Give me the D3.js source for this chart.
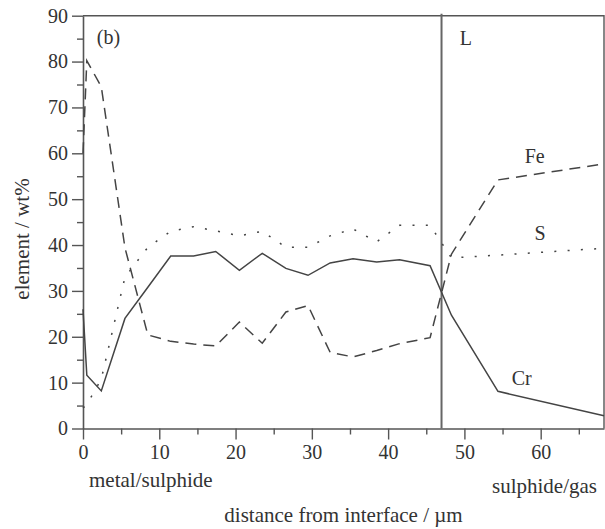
<!DOCTYPE html>
<html>
<head>
<meta charset="utf-8">
<script src="https://cdn.jsdelivr.net/npm/d3@7/dist/d3.min.js"></script>
<style>
  body { margin: 0; background: #fff; }
  text { font-family: "Liberation Serif", "Times New Roman", serif; fill: #333; }
</style>
</head>
<body>
<svg id="chart" width="605" height="529"></svg>
<script>
// distance from interface (um), shared by all three profiles
var distance = [0, 0.5, 2.4, 5.5, 8.5, 11.5, 14.5, 17.4, 20.5, 23.5, 26.6, 29.5, 32.4, 35.4, 38.5, 41.5, 45.5, 48.3, 54.4, 68.3];
var cr = [26, 11.6, 8.2, 24, 30.8, 37.6, 37.6, 38.6, 34.5, 38.2, 34.9, 33.4, 36.1, 37.0, 36.3, 36.8, 35.5, 24.7, 8.1, 2.8];
var fe = [60, 80.2, 74.5, 39.4, 20.4, 19.0, 18.4, 18.0, 23.2, 18.6, 25.4, 26.8, 16.6, 15.6, 17.0, 18.5, 19.8, 38.0, 54.2, 57.7];
var s  = [4.5, 5.2, 10.8, 33.0, 39.5, 43.0, 44.0, 43.1, 42.0, 43.0, 39.5, 39.5, 42.0, 43.5, 40.7, 44.3, 44.3, 37.2, 37.8, 39.3];
var seriesNames = ["Cr", "Fe", "S"];
var layerBoundary = 47;   // position of the "L" line
var yTicks = [0, 10, 20, 30, 40, 50, 60, 70, 80, 90];
var xTicks = [0, 10, 20, 30, 40, 50, 60];

var svg = d3.select("#chart"),
    plotLeft = 83, plotRight = 604, plotTop = 15.7, plotBottom = 428.5;

var x = d3.scaleLinear().domain([0, 68.3]).range([plotLeft, plotRight]);
var y = d3.scaleLinear().domain([0, 90]).range([plotBottom, plotTop]);

var axisColor = "#555", lineColor = "#444";

// minor ticks first, then the labelled major ones
svg.append("g")
    .attr("transform", "translate(" + plotLeft + ",0)")
    .call(d3.axisLeft(y).tickValues(d3.range(5, 90, 10)).tickSize(6).tickFormat(""))
    .call(function(g) { g.select(".domain").remove(); });
svg.append("g")
    .attr("transform", "translate(0," + plotBottom + ")")
    .call(d3.axisBottom(x).tickValues(d3.range(5, 68, 10)).tickSize(6).tickFormat(""))
    .call(function(g) { g.select(".domain").remove(); });

svg.append("g")
    .attr("transform", "translate(" + plotLeft + ",0)")
    .call(d3.axisLeft(y).tickValues(yTicks).tickSize(11).tickPadding(4).tickSizeOuter(0));
svg.append("g")
    .attr("transform", "translate(0," + plotBottom + ")")
    .call(d3.axisBottom(x).tickValues(xTicks).tickSize(11).tickPadding(5).tickSizeOuter(0));

svg.selectAll("g").attr("font-family", null).attr("font-size", null);
svg.selectAll(".tick line").attr("stroke", axisColor).attr("stroke-width", 1.4);
svg.selectAll(".domain").attr("stroke", axisColor).attr("stroke-width", 1.6);
svg.selectAll(".tick text")
    .style("font-family", "'Liberation Serif', serif")
    .style("font-size", "20px")
    .style("fill", "#333");

// frame: top and right edges
svg.append("path")
    .attr("d", "M" + plotLeft + "," + plotTop + "H" + plotRight + "V" + plotBottom)
    .attr("fill", "none")
    .attr("stroke", axisColor)
    .attr("stroke-width", 1.4);

// layer boundary
svg.append("line")
    .attr("x1", x(layerBoundary)).attr("x2", x(layerBoundary))
    .attr("y1", plotTop - 2).attr("y2", plotBottom)
    .attr("stroke", "#666")
    .attr("stroke-width", 2);

var line = d3.line()
    .x(function(d) { return x(d[0]); })
    .y(function(d) { return y(d[1]); });

var series = [
  { name: seriesNames[0], values: cr, dash: null },
  { name: seriesNames[1], values: fe, dash: "11,7" },
  { name: seriesNames[2], values: s, dash: "2,11.3" }
];

svg.append("g")
  .selectAll("path")
  .data(series)
  .enter().append("path")
    .attr("fill", "none")
    .attr("stroke", lineColor)
    .attr("stroke-width", 1.5)
    .attr("stroke-dasharray", function(d) { return d.dash; })
    .attr("d", function(d) { return line(d3.zip(distance, d.values)); });

// in-plot labels
var notes = [
  { t: "(b)", x: 1.8, y: 83.8 },
  { t: "L", x: 49.4, y: 83.6 },
  { t: seriesNames[1], x: 57.9, y: 57.8 },
  { t: seriesNames[2], x: 59.2, y: 41.0 },
  { t: seriesNames[0], x: 56.2, y: 9.5 }
];
svg.append("g")
  .selectAll("text")
  .data(notes)
  .enter().append("text")
    .attr("x", function(d) { return x(d.x); })
    .attr("y", function(d) { return y(d.y); })
    .style("font-size", "20px")
    .text(function(d) { return d.t; });

svg.append("text")
    .attr("x", 89).attr("y", 487)
    .style("font-size", "21px")
    .text("metal/sulphide");

svg.append("text")
    .attr("x", 597).attr("y", 493)
    .attr("text-anchor", "end")
    .style("font-size", "21px")
    .text("sulphide/gas");

svg.append("text")
    .attr("x", (plotLeft + plotRight) / 2).attr("y", 522)
    .attr("text-anchor", "middle")
    .style("font-size", "21px")
    .text("distance from interface / \u00b5m");

svg.append("text")
    .attr("transform", "translate(29,239) rotate(-90)")
    .attr("text-anchor", "middle")
    .style("font-size", "21px")
    .text("element / wt%");
</script>
</body>
</html>
